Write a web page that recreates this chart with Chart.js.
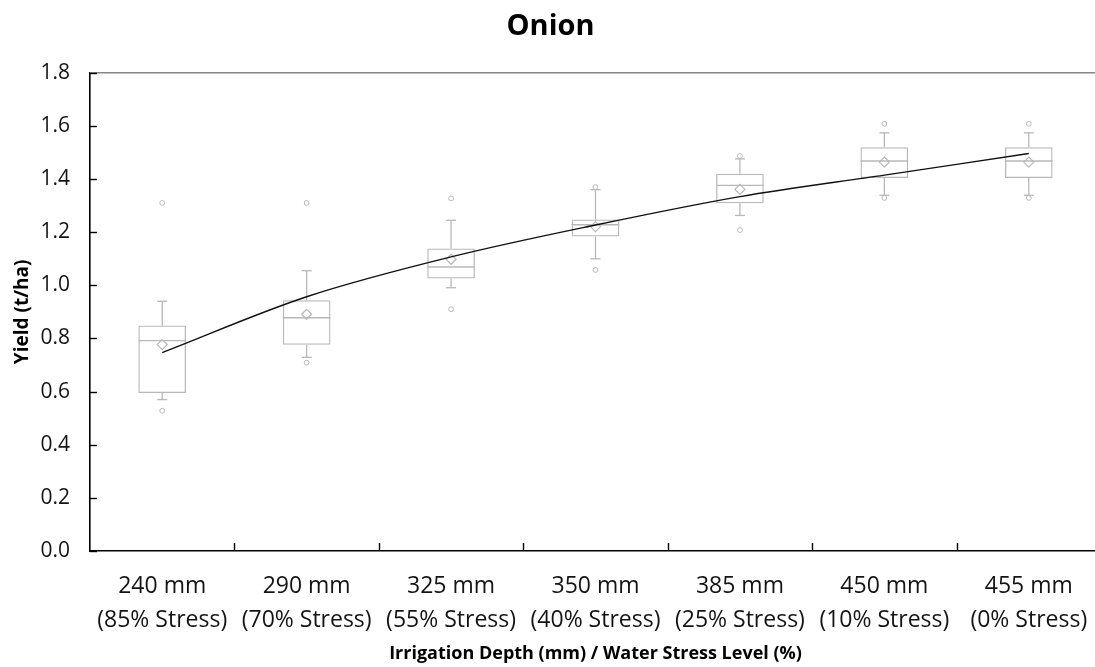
<!DOCTYPE html>
<html>
<head>
<meta charset="utf-8">
<title>Onion</title>
<script src="https://cdn.jsdelivr.net/npm/chart.js@4/dist/chart.umd.min.js"></script>
<style>
  html, body { margin: 0; padding: 0; background: #fff; overflow: hidden; }
  #wrap { width: 1110px; height: 667px; }
</style>
</head>
<body>
<div id="wrap"><canvas id="onionChart" width="1110" height="667"></canvas></div>
<script>
// categories
const depthLabels = ['240 mm', '290 mm', '325 mm', '350 mm', '385 mm', '450 mm', '455 mm'];
const stressLabels = ['(85% Stress)', '(70% Stress)', '(55% Stress)', '(40% Stress)', '(25% Stress)', '(10% Stress)', '(0% Stress)'];

// box plot values (t/ha)
const whiskerHigh = [0.940, 1.055, 1.245, 1.360, 1.476, 1.574, 1.574];
const q3 = [0.849, 0.944, 1.139, 1.248, 1.420, 1.520, 1.520];
const median = [0.792, 0.878, 1.069, 1.228, 1.376, 1.468, 1.468];
const q1 = [0.595, 0.776, 1.026, 1.184, 1.309, 1.404, 1.404];
const whiskerLow = [0.570, 0.729, 0.991, 1.100, 1.263, 1.339, 1.339];
const mean = [0.777, 0.891, 1.098, 1.221, 1.361, 1.464, 1.464];
const outlierHigh = [1.310, 1.310, 1.327, 1.370, 1.487, 1.608, 1.608];
const outlierLow = [0.528, 0.709, 0.910, 1.058, 1.208, 1.329, 1.329];

// trend line through the category centres
const trend = [0.747, 0.957, 1.107, 1.227, 1.334, 1.415, 1.496];

const boxGray = '#b8b8b8';
const textColor = '#141414';

Chart.defaults.font.family = "'Open Sans', sans-serif";
Chart.defaults.color = textColor;

const line = (ctx, x1, y1, x2, y2) => {
  ctx.beginPath();
  ctx.moveTo(x1, y1);
  ctx.lineTo(x2, y2);
  ctx.stroke();
};

// whiskers, caps and medians (behind the trend line)
const boxExtras = {
  id: 'boxExtras',
  beforeDatasetsDraw(chart) {
    const { ctx, scales: { x, y } } = chart;
    const bars = chart.getDatasetMeta(0).data;
    ctx.save();
    ctx.strokeStyle = boxGray;
    ctx.lineWidth = 1.3;
    bars.forEach((bar, i) => {
      const cx = x.getPixelForValue(i);
      const half = bar.width / 2;
      const cap = 5;
      const yTop = y.getPixelForValue(whiskerHigh[i]);
      const yBot = y.getPixelForValue(whiskerLow[i]);
      line(ctx, cx, y.getPixelForValue(q3[i]), cx, yTop);
      line(ctx, cx, y.getPixelForValue(q1[i]), cx, yBot);
      line(ctx, cx - cap, yTop, cx + cap, yTop);
      line(ctx, cx - cap, yBot, cx + cap, yBot);
      const ym = y.getPixelForValue(median[i]);
      line(ctx, cx - half, ym, cx + half, ym);
    });
    ctx.restore();
  },
  afterDraw(chart) {
    const { ctx, chartArea: area, scales: { x, y } } = chart;
    ctx.save();
    // top frame line
    ctx.strokeStyle = '#858585';
    ctx.lineWidth = 1.5;
    line(ctx, area.left, area.top, area.right, area.top);
    // tick marks pointing into the plot
    ctx.strokeStyle = '#000';
    ctx.lineWidth = 1.4;
    y.ticks.forEach((t) => {
      const py = Math.round(y.getPixelForValue(t.value)) + 0.5;
      line(ctx, area.left, py, area.left + 7, py);
    });
    for (let i = 1; i <= depthLabels.length; i++) {
      const px = Math.round(x.getPixelForValue(i - 0.5)) + 0.5;
      line(ctx, px, area.bottom, px, area.bottom - 8);
    }
    ctx.restore();
  },
};

const canvas = document.getElementById('onionChart');
const chart = new Chart(canvas.getContext('2d'), {
  type: 'bar',
  data: {
    labels: depthLabels.map((d, i) => [d, stressLabels[i]]),
    datasets: [
      {
        label: 'Box',
        data: q1.map((v, i) => [v, q3[i]]),
        backgroundColor: 'rgba(255,255,255,0)',
        borderColor: boxGray,
        borderWidth: 1.3,
        borderSkipped: false,
        categoryPercentage: 1,
        barPercentage: 0.33,
        order: 3,
      },
      {
        type: 'line',
        label: 'Outliers high',
        data: outlierHigh,
        showLine: false,
        pointStyle: 'circle',
        pointRadius: 2.4,
        pointBorderWidth: 1,
        pointBorderColor: boxGray,
        pointBackgroundColor: '#fff',
        order: 2,
      },
      {
        type: 'line',
        label: 'Outliers low',
        data: outlierLow,
        showLine: false,
        pointStyle: 'circle',
        pointRadius: 2.4,
        pointBorderWidth: 1,
        pointBorderColor: boxGray,
        pointBackgroundColor: '#fff',
        order: 2,
      },
      {
        type: 'line',
        label: 'Mean',
        data: mean,
        showLine: false,
        pointStyle: 'rectRot',
        pointRadius: 5,
        pointBorderWidth: 1.2,
        pointBorderColor: boxGray,
        pointBackgroundColor: 'rgba(255,255,255,0)',
        order: 2,
      },
      {
        type: 'line',
        label: 'Trend',
        data: trend,
        borderColor: '#111',
        borderWidth: 1.4,
        pointRadius: 0,
        cubicInterpolationMode: 'monotone',
        fill: false,
        order: 0,
      },
    ],
  },
  options: {
    responsive: false,
    animation: false,
    devicePixelRatio: 1,
    layout: { padding: { left: 0, right: 9, top: 0, bottom: 0 } },
    plugins: {
      legend: { display: false },
      tooltip: { enabled: false },
      title: {
        display: true,
        text: 'Onion',
        color: '#000',
        font: { size: 29, weight: 'bold', lineHeight: 1.2 },
        padding: { top: 9, bottom: 29 },
      },
    },
    scales: {
      x: {
        grid: { display: false, drawTicks: false },
        border: { display: true, color: '#000', width: 1.6 },
        ticks: {
          autoSkip: false,
          maxRotation: 0,
          padding: 19,
          color: textColor,
          font: { size: 23, lineHeight: 1.45 },
        },
        title: {
          display: true,
          text: 'Irrigation Depth (mm) / Water Stress Level (%)',
          color: '#000',
          font: { size: 18, weight: 'bold', lineHeight: 1.2 },
          padding: { top: 0, bottom: 2 },
        },
        afterFit(scale) { scale.height = 116; },
      },
      y: {
        min: 0,
        max: 1.8,
        grid: { display: false, drawTicks: false },
        border: { display: true, color: '#000', width: 1.6 },
        ticks: {
          stepSize: 0.2,
          padding: 20,
          color: textColor,
          font: { size: 21 },
          callback: (value) => Number(value).toFixed(1),
        },
        title: {
          display: true,
          text: 'Yield (t/ha)',
          color: '#000',
          font: { size: 19, weight: 'bold', lineHeight: 1.2 },
          padding: { top: 11, bottom: 0 },
        },
        afterFit(scale) { scale.width = 90; },
      },
    },
  },
  plugins: [boxExtras],
});
</script>
</body>
</html>
